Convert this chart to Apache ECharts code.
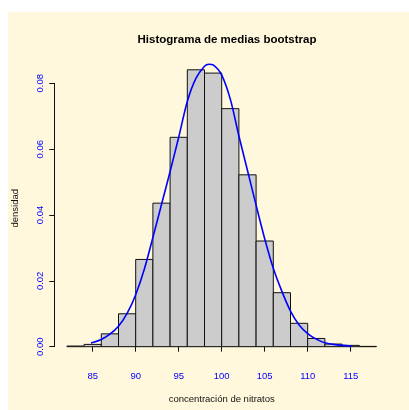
<!DOCTYPE html>
<html>
<head>
<meta charset="utf-8">
<script src="https://cdn.jsdelivr.net/npm/echarts@6/dist/echarts.min.js"></script>
<style>
  html, body { margin: 0; padding: 0; background: #ffffff; }
  #wrap { position: relative; width: 409px; height: 410px; overflow: hidden; }
  #bg { position: absolute; left: 8px; top: 12px; width: 401px; height: 398px; background: #FFF8DC; }
  #chart { position: absolute; left: 0; top: 0; width: 409px; height: 410px; }
</style>
</head>
<body>
<div id="wrap"><div id="bg"></div><div id="chart"></div></div>
<script>
// ---- data ----
const titleText = 'Histograma de medias bootstrap';
const xLabel = 'concentración de nitratos';
const yLabel = 'densidad';

// histogram bins (left edges) and width
const binStarts = [82, 84, 86, 88, 90, 92, 94, 96, 98, 100, 102, 104, 106, 108, 110, 112, 114, 116];
const binWidth = 2;
const binDensity = [0.0002, 0.0007, 0.0039, 0.0100, 0.0265, 0.0436, 0.0636, 0.0841, 0.0831,
                    0.0723, 0.0522, 0.0321, 0.0164, 0.0071, 0.0025, 0.0008, 0.0004, 0.0001];

// density curve
const curveX = [82, 83, 84, 85, 86, 87, 88, 89, 90, 91, 92, 93, 94, 95, 96, 97, 98, 98.5, 99,
                100, 101, 102, 103, 104, 105, 106, 107, 108, 109, 110, 111, 112, 113, 114, 115, 116, 117, 118];
const curveY = [0.0002, 0.0003, 0.0007, 0.0013, 0.0022, 0.0038, 0.0062, 0.0101, 0.0158, 0.0235,
                0.0332, 0.0432, 0.0532, 0.0636, 0.0745, 0.0815, 0.0852, 0.0858, 0.0856,
                0.0825, 0.0752, 0.0640, 0.0535, 0.0430, 0.0328, 0.0238, 0.0168, 0.0108, 0.0066,
                0.0040, 0.0023, 0.0012, 0.0007, 0.0004, 0.0002, 0.0001, 0.00005, 0.00002];

// axis ticks
const xTicks = { min: 85, max: 115, interval: 5 };
const yTicks = { min: 0, max: 0.08, interval: 0.02 };

// ---- build ----
const histData = binStarts.map((s, i) => [s, s + binWidth, binDensity[i]]);
const lineData = curveX.map((x, i) => [x, curveY[i]]);

const font = "'Liberation Sans', Arial, Helvetica, sans-serif";
const chart = echarts.init(document.getElementById('chart'), null, { renderer: 'canvas' });

chart.setOption({
  animation: false,
  backgroundColor: 'transparent',
  textStyle: { fontFamily: font },
  title: {
    text: titleText,
    left: 222,
    top: 29,
    textAlign: 'center',
    textStyle: { fontSize: 11.5, fontWeight: 'bold', color: '#000', fontFamily: font }
  },
  grid: { left: 92.7, top: 83.3, width: 258, height: 263.4, containLabel: false },
  xAxis: {
    type: 'value',
    min: xTicks.min, max: xTicks.max, interval: xTicks.interval,
    offset: 12,
    name: xLabel,
    nameLocation: 'middle',
    nameGap: 36,
    nameTextStyle: { fontSize: 9.5, color: '#111', fontFamily: font },
    axisLine: { show: true, lineStyle: { color: '#111', width: 1 } },
    axisTick: { show: true, inside: false, length: 5, lineStyle: { color: '#111', width: 1 } },
    axisLabel: { color: '#0000FF', fontSize: 9.5, margin: 13, fontFamily: font },
    splitLine: { show: false }
  },
  yAxis: {
    type: 'value',
    min: yTicks.min, max: yTicks.max, interval: yTicks.interval,
    offset: 38.4,
    axisLine: { show: true, lineStyle: { color: '#111', width: 1 } },
    axisTick: { show: true, inside: false, length: 5, lineStyle: { color: '#111', width: 1 } },
    axisLabel: {
      color: '#0000FF', fontSize: 9.5, margin: 9, rotate: 90, fontFamily: font,
      formatter: v => v.toFixed(2)
    },
    splitLine: { show: false }
  },
  graphic: [{
    type: 'text',
    x: 15, y: 208.3,
    rotation: Math.PI / 2,
    style: { text: yLabel, fontSize: 9.5, fill: '#111', align: 'center', verticalAlign: 'middle', font: '9.5px ' + font }
  }],
  series: [
    {
      type: 'custom',
      clip: false,
      data: histData,
      encode: { x: [0, 1], y: 2 },
      renderItem: function (params, api) {
        const x0 = api.value(0), x1 = api.value(1), y = api.value(2);
        const p0 = api.coord([x0, y]);
        const p1 = api.coord([x1, 0]);
        return {
          type: 'rect',
          shape: { x: p0[0], y: p0[1], width: p1[0] - p0[0], height: p1[1] - p0[1] },
          style: { fill: '#CCCCCC', stroke: '#111', lineWidth: 1 }
        };
      }
    },
    {
      type: 'line',
      clip: false,
      data: lineData,
      showSymbol: false,
      smooth: 0.3,
      lineStyle: { color: '#0000FF', width: 1.6 },
      z: 5
    }
  ]
});
</script>
</body>
</html>
